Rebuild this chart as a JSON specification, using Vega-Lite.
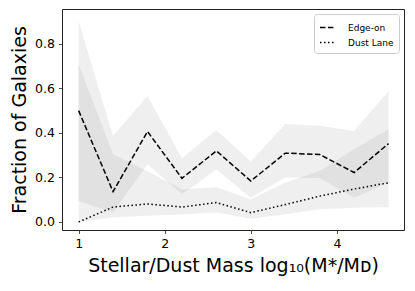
{
  "$schema": "https://vega.github.io/schema/vega-lite/v6.json",
  "width": 342,
  "height": 221,
  "autosize": {"type": "none"},
  "padding": {"left": 62, "top": 9, "right": 11, "bottom": 61},
  "background": "white",
  "config": {
    "font": "DejaVu Sans",
    "view": {"stroke": "#222222", "strokeWidth": 1},
    "axis": {"grid": false, "domain": false, "tickColor": "#222222", "tickSize": 3.5, "tickWidth": 0.8, "labelFontSize": 12.5, "labelColor": "#000000", "titleFontSize": 19, "titleFontWeight": "normal", "titleColor": "#000000", "labelPadding": 4}
  },
  "data": {
    "values": [
      {"x": 1.0, "series": "Edge-on", "frac": 0.50, "lo": 0.094, "hi": 0.901},
      {"x": 1.4, "series": "Edge-on", "frac": 0.136, "lo": 0.043, "hi": 0.386},
      {"x": 1.8, "series": "Edge-on", "frac": 0.406, "lo": 0.259, "hi": 0.565},
      {"x": 2.2, "series": "Edge-on", "frac": 0.196, "lo": 0.124, "hi": 0.286},
      {"x": 2.6, "series": "Edge-on", "frac": 0.319, "lo": 0.236, "hi": 0.413},
      {"x": 3.0, "series": "Edge-on", "frac": 0.184, "lo": 0.109, "hi": 0.272},
      {"x": 3.4, "series": "Edge-on", "frac": 0.309, "lo": 0.200, "hi": 0.440},
      {"x": 3.8, "series": "Edge-on", "frac": 0.303, "lo": 0.197, "hi": 0.432},
      {"x": 4.2, "series": "Edge-on", "frac": 0.222, "lo": 0.109, "hi": 0.408},
      {"x": 4.6, "series": "Edge-on", "frac": 0.352, "lo": 0.177, "hi": 0.588},
      {"x": 1.0, "series": "Dust Lane", "frac": 0.0, "lo": 0.0, "hi": 0.707},
      {"x": 1.4, "series": "Dust Lane", "frac": 0.067, "lo": 0.021, "hi": 0.304},
      {"x": 1.8, "series": "Dust Lane", "frac": 0.081, "lo": 0.028, "hi": 0.228},
      {"x": 2.2, "series": "Dust Lane", "frac": 0.067, "lo": 0.034, "hi": 0.147},
      {"x": 2.6, "series": "Dust Lane", "frac": 0.087, "lo": 0.043, "hi": 0.156},
      {"x": 3.0, "series": "Dust Lane", "frac": 0.042, "lo": 0.014, "hi": 0.102},
      {"x": 3.4, "series": "Dust Lane", "frac": 0.078, "lo": 0.035, "hi": 0.177},
      {"x": 3.8, "series": "Dust Lane", "frac": 0.116, "lo": 0.057, "hi": 0.229},
      {"x": 4.2, "series": "Dust Lane", "frac": 0.148, "lo": 0.064, "hi": 0.326},
      {"x": 4.6, "series": "Dust Lane", "frac": 0.176, "lo": 0.066, "hi": 0.416}
    ]
  },
  "layer": [
    {
      "mark": {"type": "area", "color": "#808080", "opacity": 0.13},
      "encoding": {
        "x": {"field": "x", "type": "quantitative", "scale": {"domain": [0.807, 4.779], "nice": false, "zero": false}, "axis": {"values": [1, 2, 3, 4], "format": "d", "title": "Stellar/Dust Mass log₁₀(M*/Mᴅ)", "titlePadding": 6}},
        "y": {"field": "lo", "type": "quantitative", "scale": {"domain": [-0.036, 0.956], "nice": false, "zero": false}, "axis": {"values": [0, 0.2, 0.4, 0.6, 0.8], "format": ".1f", "title": "Fraction of Galaxies", "titlePadding": 5}},
        "y2": {"field": "hi"},
        "detail": {"field": "series"}
      }
    },
    {
      "mark": {"type": "line", "color": "#000000", "strokeWidth": 1.5},
      "encoding": {
        "x": {"field": "x", "type": "quantitative"},
        "y": {"field": "frac", "type": "quantitative"},
        "strokeDash": {
          "field": "series", "type": "nominal",
          "scale": {"domain": ["Edge-on", "Dust Lane"], "range": [[5.5, 2.4], [1.5, 2.5]]},
          "legend": {"title": null, "orient": "top-right", "offset": 5, "fillColor": "white", "strokeColor": "#cccccc", "cornerRadius": 3, "padding": 5, "labelFontSize": 9, "labelOffset": 12, "labelColor": "#000000", "symbolType": "stroke", "symbolSize": 225, "symbolStrokeWidth": 1.5, "symbolStrokeColor": "#000000", "rowPadding": 1}
        }
      }
    }
  ]
}
